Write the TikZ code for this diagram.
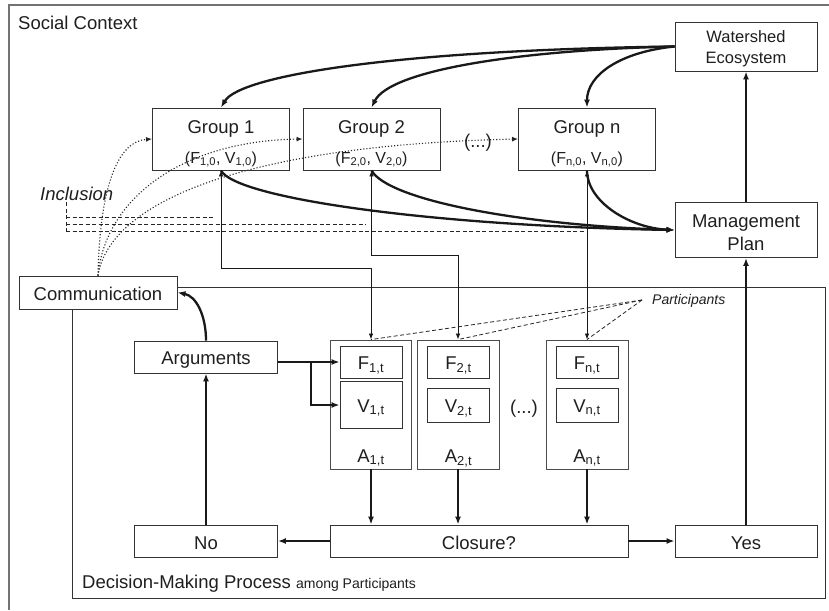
\documentclass[tikz,border=0pt]{standalone}
\usepackage{fontspec}
\setmainfont{Liberation Sans}
\usetikzlibrary{arrows.meta,calc}
\newcommand{\fbig}{\fontsize{18.5}{22}\selectfont}
\newcommand{\fmid}{\fontsize{16.5}{21}\selectfont}
\newcommand{\fpar}{\fontsize{16}{18}\selectfont}
\newcommand{\fsm}{\fontsize{14}{16}\selectfont}
\begin{document}
\begin{tikzpicture}[x=1pt,y=-1pt,
  box/.style={draw=black!80, line width=0.9pt, inner sep=0pt},
  abox/.style={draw=black!70, line width=0.9pt, inner sep=0pt, minimum width=82pt, minimum height=129pt},
  fvbox/.style={draw=black!80, line width=0.9pt, inner sep=0pt, minimum width=62pt},
  txt/.style={inner sep=0pt, text=black!88, anchor=base},
  thk/.style={line width=2.3pt, draw=black!90, -{Latex[length=8pt,width=6pt]}},
  thn/.style={line width=0.8pt, draw=black!90, {Latex[length=6pt,width=4.5pt]}-{Latex[length=6pt,width=4.5pt]}},
  dots/.style={line width=1.1pt, dotted, draw=black!85, -{Latex[length=6pt,width=5pt]}},
  dsh/.style={line width=0.8pt, draw=black!85, dash pattern=on 4pt off 2.5pt},
  frm/.style={line width=1.3pt, draw=black!55},
  dmp/.style={line width=0.9pt, draw=black!80}
]
\useasboundingbox (0,0) rectangle (829,610);
\fill[white] (0,0) rectangle (829,610);
% outer frame
\draw[frm] (829,5) -- (9,5) -- (9,610);
\node[txt, anchor=base west, font=\fbig] (soc) at (18,30) {Social Context};

% boxes
\node[box, minimum width=142pt, minimum height=49pt] (ws) at (746,46.5) {};
\node[txt, font=\fmid] (wst1) at (746,43) {Watershed};
\node[txt, font=\fmid] (wst2) at (746,63.5) {Ecosystem};

\node[box, minimum width=137pt, minimum height=62pt] (g1) at (221,139) {};
\node[box, minimum width=137pt, minimum height=62pt] (g2) at (371.5,139) {};
\node[box, minimum width=137pt, minimum height=62pt] (gn) at (587,139) {};

\node[box, minimum width=142pt, minimum height=55pt] (mp) at (746,230) {};
\node[txt, font=\fbig] (mpt1) at (746,227) {Management};
\node[txt, font=\fbig] (mpt2) at (746,250.5) {Plan};

\node[box, minimum width=158pt, minimum height=33pt] (comm) at (98,292.5) {};
\node[txt, font=\fbig] (commt) at (98,300) {Communication};

% decision-making region
\draw[dmp] (comm.east |- 0,287) -- (825,287) -- (825,598) -- (72.5,598) -- (comm.south -| 72.5,0);
\node[txt, anchor=base west] (dmpt) at (82,588) {\fbig Decision-Making Process \fsm among Participants};

\node[box, minimum width=143pt, minimum height=32pt] (arg) at (206,357) {};
\node[txt, font=\fbig] (argt) at (206,364) {Arguments};
\node[box, minimum width=143pt, minimum height=32pt] (no) at (206,541) {};
\node[txt, font=\fbig] (not) at (206,549) {No};
\node[box, minimum width=298pt, minimum height=32pt] (clos) at (479,541) {};
\node[txt, font=\fbig] (clost) at (479,549) {Closure?};
\node[box, minimum width=142pt, minimum height=32pt] (yes) at (746,541) {};
\node[txt, font=\fbig] (yest) at (746,549) {Yes};

\node[abox, minimum width=81pt] (a1) at (371,404.5) {};
\node[abox] (a2) at (458,404.5) {};
\node[abox] (an) at (587,404.5) {};
\node[fvbox, minimum height=32pt] (f1) at (371,362) {};
\node[fvbox, minimum height=47pt] (v1) at (371,405) {};
\node[fvbox, minimum height=32pt] (f2) at (458.5,362) {};
\node[fvbox, minimum height=34pt] (v2) at (458.5,405) {};
\node[fvbox, minimum height=32pt] (fn) at (587,362) {};
\node[fvbox, minimum height=34pt] (vn) at (587,405) {};

\node[txt, font=\fbig] (f1t) at (371,369.5) {F\textsubscript{1,t}};
\node[txt, font=\fbig] (v1t) at (371,412) {V\textsubscript{1,t}};
\node[txt, font=\fbig] (a1t) at (371,462) {A\textsubscript{1,t}};
\node[txt, font=\fbig] (f2t) at (458.5,369.5) {F\textsubscript{2,t}};
\node[txt, font=\fbig] (v2t) at (458.5,412) {V\textsubscript{2,t}};
\node[txt, font=\fbig] (a2t) at (458.5,462) {A\textsubscript{2,t}};
\node[txt, font=\fbig] (fnt) at (587,369.5) {F\textsubscript{n,t}};
\node[txt, font=\fbig] (vnt) at (587,412) {V\textsubscript{n,t}};
\node[txt, font=\fbig] (ant) at (587,462) {A\textsubscript{n,t}};
\node[txt, font=\fbig] (dotsA) at (524,413) {(...)};

% Watershed -> groups
\draw[thk] (ws.west) .. controls (400,50) and (240,75) .. (g1.north);
\draw[thk] (ws.west) .. controls (520,50) and (390,70) .. (g2.north);
\draw[thk] (ws.west) .. controls (620,52) and (587,75) .. (gn.north);

% groups -> management plan
\draw[thk] (g1.south) .. controls (235,198) and (430,226) .. (mp.west);
\draw[thk] (g2.south) .. controls (388,200) and (520,225) .. (mp.west);
\draw[thk] (gn.south) .. controls (587,202) and (630,228) .. (mp.west);

% thin links groups <-> participants
\draw[thn] (g1.south) -- ++(0,98) -| (a1.north);
\draw[thn] (g2.south) -- ++(0,85) -| (a2.north);
\draw[thn] (gn.south) -- (an.north);

% inclusion
\node[txt, anchor=base west, font=\fbig\itshape] (inc) at (40,200) {Inclusion};
\coordinate (i0) at (66,202);
\coordinate (i1) at (66,217);
\coordinate (i2) at (66,224);
\coordinate (i3) at (66,231);
\coordinate (e1) at (215,217);
\coordinate (e2) at (366,224);
\coordinate (e3) at (585,231);
\draw[dsh] (i0) -- (i3);
\draw[dsh] (i1) -- (e1);
\draw[dsh] (i2) -- (e2);
\draw[dsh] (i3) -- (e3);

% participants
\node[txt, anchor=base west, font=\fsm\itshape] (part) at (652,304) {Participants};
\coordinate (pc) at (642,300);
\draw[dsh] (pc) -- (a1.north);
\draw[dsh] (pc) -- (a2.north);
\draw[dsh] (pc) -- (an.north);

% communication dotted
\draw[dots] (comm.north) .. controls (100,180) and (120,141) .. (g1.west);
\draw[dots] (comm.north) .. controls (105,200) and (180,141) .. (g2.west);
\draw[dots] (comm.north) .. controls (110,200) and (250,145) .. (gn.west);

% group texts
\node[txt, font=\fbig] (g1t) at (221,133) {Group 1};
\node[txt, font=\fpar] (g1p) at (221,163) {(F\textsubscript{1,0}, V\textsubscript{1,0})};
\node[txt, font=\fbig] (g2t) at (371.5,133) {Group 2};
\node[txt, font=\fpar] (g2p) at (371.5,163) {(F\textsubscript{2,0}, V\textsubscript{2,0})};
\node[txt, font=\fbig] (gnt) at (587,133) {Group n};
\node[txt, font=\fpar] (gnp) at (587,163) {(F\textsubscript{n,0}, V\textsubscript{n,0})};
\node[txt, font=\fbig] (dotsG) at (478,147) {(...)};

% process arrows
\draw[thk] (f1.west -| arg.east) -- (f1.west);
\draw[thk] ($(f1.west -| arg.east)+(33,0)$) |- (v1.west);
\draw[thk] (no.north) -- (arg.south);
\draw[thk] (arg.north) .. controls (206,315) and (196,296) .. (comm.east);
\draw[thk] (a1.south) -- (a1.south |- clos.north);
\draw[thk] (a2.south) -- (a2.south |- clos.north);
\draw[thk] (an.south) -- (an.south |- clos.north);
\draw[thk] (clos.west) -- (no.east);
\draw[thk] (clos.east) -- (yes.west);
\draw[thk] (yes.north) -- (mp.south);
\draw[thk] (mp.north) -- (ws.south);
\end{tikzpicture}
\end{document}
